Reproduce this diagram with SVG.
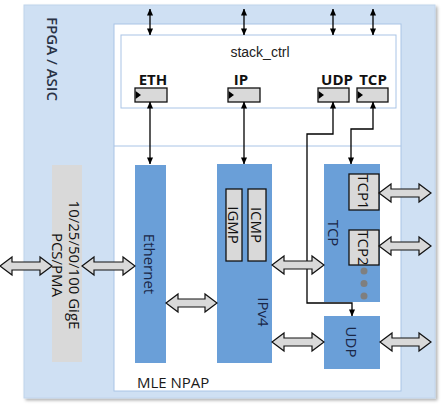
<svg xmlns="http://www.w3.org/2000/svg" width="443" height="407" viewBox="0 0 443 407">
<style>
.blk{fill:#6a9fd8}
.gbox{fill:#d9d9d9;stroke:#111;stroke-width:1.3}
.reg{fill:#d9d9d9;stroke:#111;stroke-width:1.3}
.fat{fill:#d9d9d9;stroke:#111;stroke-width:1.2;stroke-linejoin:miter}
.ln{fill:none;stroke:#000;stroke-width:1.3}
.t{font-family:"Open Sans","DejaVu Sans",sans-serif;font-size:15px;text-anchor:middle;dominant-baseline:central}
.tb{fill:#1a2747}
.lab{font-family:"Open Sans","DejaVu Sans",sans-serif;font-size:15px;font-weight:bold;text-anchor:middle;fill:#111}
</style>
<defs>
<marker id="ah" viewBox="0 0 8 8" refX="7.5" refY="4" markerWidth="7" markerHeight="7" markerUnits="userSpaceOnUse" orient="auto-start-reverse">
<path d="M0,0.5 L8,4 L0,7.5 Z" fill="#000"/>
</marker>
<filter id="sh" x="-5%" y="-5%" width="110%" height="110%">
<feDropShadow dx="2" dy="2" stdDeviation="1.5" flood-color="#000" flood-opacity="0.3"/>
</filter>
</defs>
<g id="fpga">
<rect x="24" y="5" width="411" height="393" fill="#cfe0f3" stroke="#c0d4ec" filter="url(#sh)"/>
<text class="t" x="53" y="59" transform="rotate(90 53 59)" style="font-weight:600;fill:#2a3346">FPGA / ASIC</text>
</g>
<g id="mle_npap">
<rect x="114" y="24" width="287" height="367" fill="#fff" stroke="#a9c4e6"/>
<line x1="114" y1="146" x2="401" y2="146" stroke="#a9c4e6"/>
<text x="137" y="388" style="font-family:'Open Sans','DejaVu Sans',sans-serif;font-size:15px;fill:#1a1a1a">MLE NPAP</text>
</g>
<g id="stack_ctrl">
<rect x="121" y="35" width="275" height="73" fill="#fff" stroke="#a9c4e6"/>
<text x="260" y="57" style="font-family:'Liberation Sans',Arial,sans-serif;font-size:14px;text-anchor:middle;fill:#222">stack_ctrl</text>
</g>
<g id="reg_eth">
<text class="lab" x="153" y="85">ETH</text>
<rect class="reg" x="135" y="88" width="32" height="14"/>
<path d="M135.6,91 L141,95 L135.6,99 Z" fill="#000"/>
</g>
<g id="reg_ip">
<text class="lab" x="241" y="85">IP</text>
<rect class="reg" x="228" y="88" width="32" height="14"/>
<path d="M228.6,91 L234,95 L228.6,99 Z" fill="#000"/>
</g>
<g id="reg_udp">
<text class="lab" x="337" y="85">UDP</text>
<rect class="reg" x="318" y="88" width="31" height="14"/>
<path d="M318.6,91 L324,95 L318.6,99 Z" fill="#000"/>
</g>
<g id="reg_tcp">
<text class="lab" x="373" y="85">TCP</text>
<rect class="reg" x="357" y="88" width="31" height="14"/>
<path d="M357.6,91 L363,95 L357.6,99 Z" fill="#000"/>
</g>
<g id="pcs_pma">
<rect x="52" y="165" width="30" height="197" fill="#d9d9d9"/>
<text class="t" x="75" y="265" transform="rotate(90 75 265)" style="fill:#111">10/25/50/100 GigE</text>
<text class="t" x="58" y="265" transform="rotate(90 58 265)" style="fill:#111">PCS/PMA</text>
</g>
<g id="ethernet">
<rect class="blk" x="135" y="165" width="31" height="198"/>
<text class="t tb" x="150" y="264" transform="rotate(90 150 264)">Ethernet</text>
</g>
<g id="ipv4">
<rect class="blk" x="217" y="164" width="55" height="199"/>
<text class="t tb" x="264" y="312" transform="rotate(90 264 312)">IPv4</text>
</g>
<g id="igmp">
<rect class="gbox" x="226" y="189" width="16" height="72"/>
<text class="t" x="234" y="225" transform="rotate(90 234 225)" style="fill:#111">IGMP</text>
</g>
<g id="icmp">
<rect class="gbox" x="248" y="189" width="18" height="72"/>
<text class="t" x="257" y="225" transform="rotate(90 257 225)" style="fill:#111">ICMP</text>
</g>
<g id="tcp">
<rect class="blk" x="324" y="164" width="56" height="138"/>
<text class="t tb" x="334" y="233" transform="rotate(90 334 233)">TCP</text>
<circle cx="364" cy="271" r="3.5" fill="#7f7f7f"/>
<circle cx="364" cy="283.5" r="3.5" fill="#7f7f7f"/>
<circle cx="364" cy="296" r="3.5" fill="#7f7f7f"/>
</g>
<g id="tcp1">
<rect class="gbox" x="349" y="174" width="30" height="36"/>
<text class="t" x="364" y="192" transform="rotate(90 364 192)" style="fill:#111">TCP1</text>
</g>
<g id="tcp2">
<rect class="gbox" x="349" y="230" width="30" height="35"/>
<text class="t" x="364" y="248" transform="rotate(90 364 248)" style="fill:#111">TCP2</text>
</g>
<g id="udp">
<rect class="blk" x="324" y="316" width="56" height="53"/>
<text class="t tb" x="352" y="342" transform="rotate(90 352 342)">UDP</text>
</g>
<g id="connectors">
<line class="ln" x1="150" y1="9" x2="150" y2="35" marker-start="url(#ah)" marker-end="url(#ah)"/>
<line class="ln" x1="244" y1="9" x2="244" y2="35" marker-start="url(#ah)" marker-end="url(#ah)"/>
<line class="ln" x1="333" y1="9" x2="333" y2="35" marker-start="url(#ah)" marker-end="url(#ah)"/>
<line class="ln" x1="373" y1="9" x2="373" y2="35" marker-start="url(#ah)" marker-end="url(#ah)"/>
<line class="ln" x1="150" y1="102" x2="150" y2="164" marker-start="url(#ah)" marker-end="url(#ah)"/>
<line class="ln" x1="244" y1="102" x2="244" y2="164" marker-start="url(#ah)" marker-end="url(#ah)"/>
<polyline class="ln" points="333,102 333,134 307,134 307,303 352,303 352,316" marker-start="url(#ah)" marker-end="url(#ah)"/>
<polyline class="ln" points="373,102 373,129 351,129 351,164" marker-start="url(#ah)" marker-end="url(#ah)"/>
<path class="fat" d="M0,266 L12,257 L12,262 L40,262 L40,257 L52,266 L40,275 L40,270 L12,270 L12,275 Z"/>
<path class="fat" d="M82,266 L94,257 L94,262 L123,262 L123,257 L135,266 L123,275 L123,270 L94,270 L94,275 Z"/>
<path class="fat" d="M166,303 L178,294 L178,299 L205,299 L205,294 L217,303 L205,312 L205,307 L178,307 L178,312 Z"/>
<path class="fat" d="M272,265 L284,256 L284,261 L312,261 L312,256 L324,265 L312,274 L312,269 L284,269 L284,274 Z"/>
<path class="fat" d="M272,342 L284,333 L284,338 L312,338 L312,333 L324,342 L312,351 L312,346 L284,346 L284,351 Z"/>
<path class="fat" d="M379,193 L391,184 L391,189 L419,189 L419,184 L431,193 L419,202 L419,197 L391,197 L391,202 Z"/>
<path class="fat" d="M379,246 L391,237 L391,242 L419,242 L419,237 L431,246 L419,255 L419,250 L391,250 L391,255 Z"/>
<path class="fat" d="M380,342 L392,333 L392,338 L419,338 L419,333 L431,342 L419,351 L419,346 L392,346 L392,351 Z"/>
</g>
</svg>
